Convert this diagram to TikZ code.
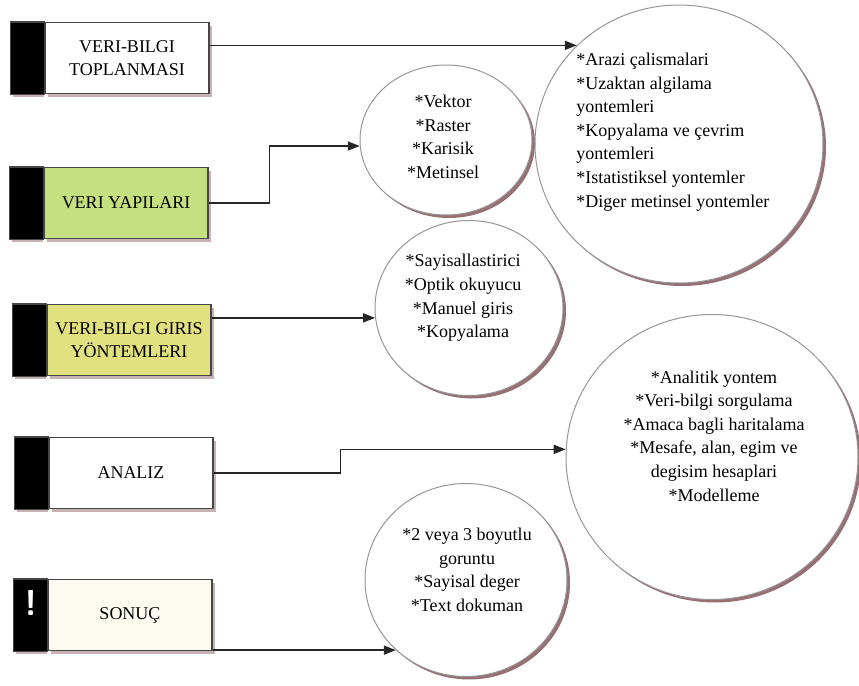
\documentclass[tikz,border=0pt]{standalone}
\usepackage{fontspec}
\setmainfont{Liberation Serif}
\usetikzlibrary{arrows.meta,shapes.geometric,shadows}
\definecolor{yesil}{RGB}{196,224,128}
\definecolor{sari}{RGB}{225,225,128}
\definecolor{krem}{RGB}{253,250,240}
\definecolor{kenar}{RGB}{70,70,70}
\definecolor{kutugolge}{RGB}{200,178,180}
\definecolor{halkakenar}{RGB}{150,150,150}
\definecolor{halkagolge}{RGB}{150,112,116}
\newcommand{\yazi}{\fontsize{9}{11.8}\selectfont}
\tikzset{
  kutu/.style={draw=kenar, line width=0.6pt, fill=white, minimum width=82pt, minimum height=35.5pt,
    align=center, font=\yazi, inner sep=1pt,
    drop shadow={shadow xshift=1.5pt, shadow yshift=-1.5pt, fill=kutugolge, opacity=1}},
  halka/.style={ellipse, draw=halkakenar, line width=0.5pt, fill=white, inner sep=0pt,
    drop shadow={shadow xshift=1.5pt, shadow yshift=-1.5pt, fill=halkagolge, opacity=1}},
  liste/.style={align=center, font=\yazi, inner sep=0pt},
  ok/.style={line width=0.8pt, draw=black!85, -{Triangle[length=6pt,width=4.5pt]}}
}
\begin{document}
\begin{tikzpicture}[x=0.5pt, y=-0.5pt]
  \useasboundingbox (0,0) rectangle (859,686);

  \node[kutu] (toplama) at (127,58) {VERI-BILGI\\TOPLANMASI};
  \node[kutu, fill=yesil] (yapi) at (126,203) {VERI YAPILARI};
  \node[kutu, fill=sari] (giris) at (129,340) {VERI-BILGI GIRIS\\YÖNTEMLERI};
  \node[kutu] (analiz) at (131,473) {ANALIZ};
  \node[kutu, fill=krem] (sonuc) at (130,615) {SONUÇ};
  \foreach \k in {toplama, yapi, giris, analiz, sonuc} {
    \fill[kutugolge] ([xshift=-15.5pt]\k.south west) rectangle ([yshift=-1.5pt]\k.south west);
    \filldraw[draw=kenar, line width=0.6pt, fill=black] (\k.north west) rectangle ([xshift=-17pt]\k.south west);
  }
  \node[text=white, font=\fontsize{18}{18}\selectfont\bfseries\sffamily] (unlem) at (31,603) {!};

  \node[halka, minimum width=86pt, minimum height=75pt] (vektor) at (446,140) {};
  \node[halka, minimum width=144pt, minimum height=139pt] (arazi) at (679,144) {};
  \node[halka, minimum width=94pt, minimum height=87.5pt] (sayisal) at (469,308) {};
  \node[halka, minimum width=146pt, minimum height=142.5pt] (analitik) at (712,457) {};
  \node[halka, minimum width=101pt, minimum height=96.5pt] (cikti) at (466,580) {};

  \node[liste] (vektoryazi) at (443,137) {*Vektor\\*Raster\\*Karisik\\*Metinsel};
  \node[liste, align=left, anchor=west] (araziyazi) at (576,132)
    {*Arazi çalismalari\\*Uzaktan algilama\\yontemleri\\*Kopyalama ve çevrim\\yontemleri\\*Istatistiksel yontemler\\*Diger metinsel yontemler};
  \node[liste] (sayisalyazi) at (463,298) {*Sayisallastirici\\*Optik okuyucu\\*Manuel giris\\*Kopyalama};
  \node[liste] (analitikyazi) at (714,436)
    {*Analitik yontem\\*Veri-bilgi sorgulama\\*Amaca bagli haritalama\\*Mesafe, alan, egim ve\\degisim hesaplari\\*Modelleme};
  \node[liste] (ciktiyazi) at (467,570) {*2 veya 3 boyutlu\\goruntu\\*Sayisal deger\\*Text dokuman};

  \draw[ok] (toplama.east |- arazi.136) -- (arazi.136);
  \draw[ok] (yapi.east) -- ++(61,0) |- (vektor.184);
  \draw[ok] (giris.east |- sayisal.186) -- (sayisal.186);
  \draw[ok] (analiz.east) -- ++(127,0) |- (analitik.177);
  \draw[ok] (sonuc.east |- cikti.225) -- (cikti.225);
\end{tikzpicture}
\end{document}
